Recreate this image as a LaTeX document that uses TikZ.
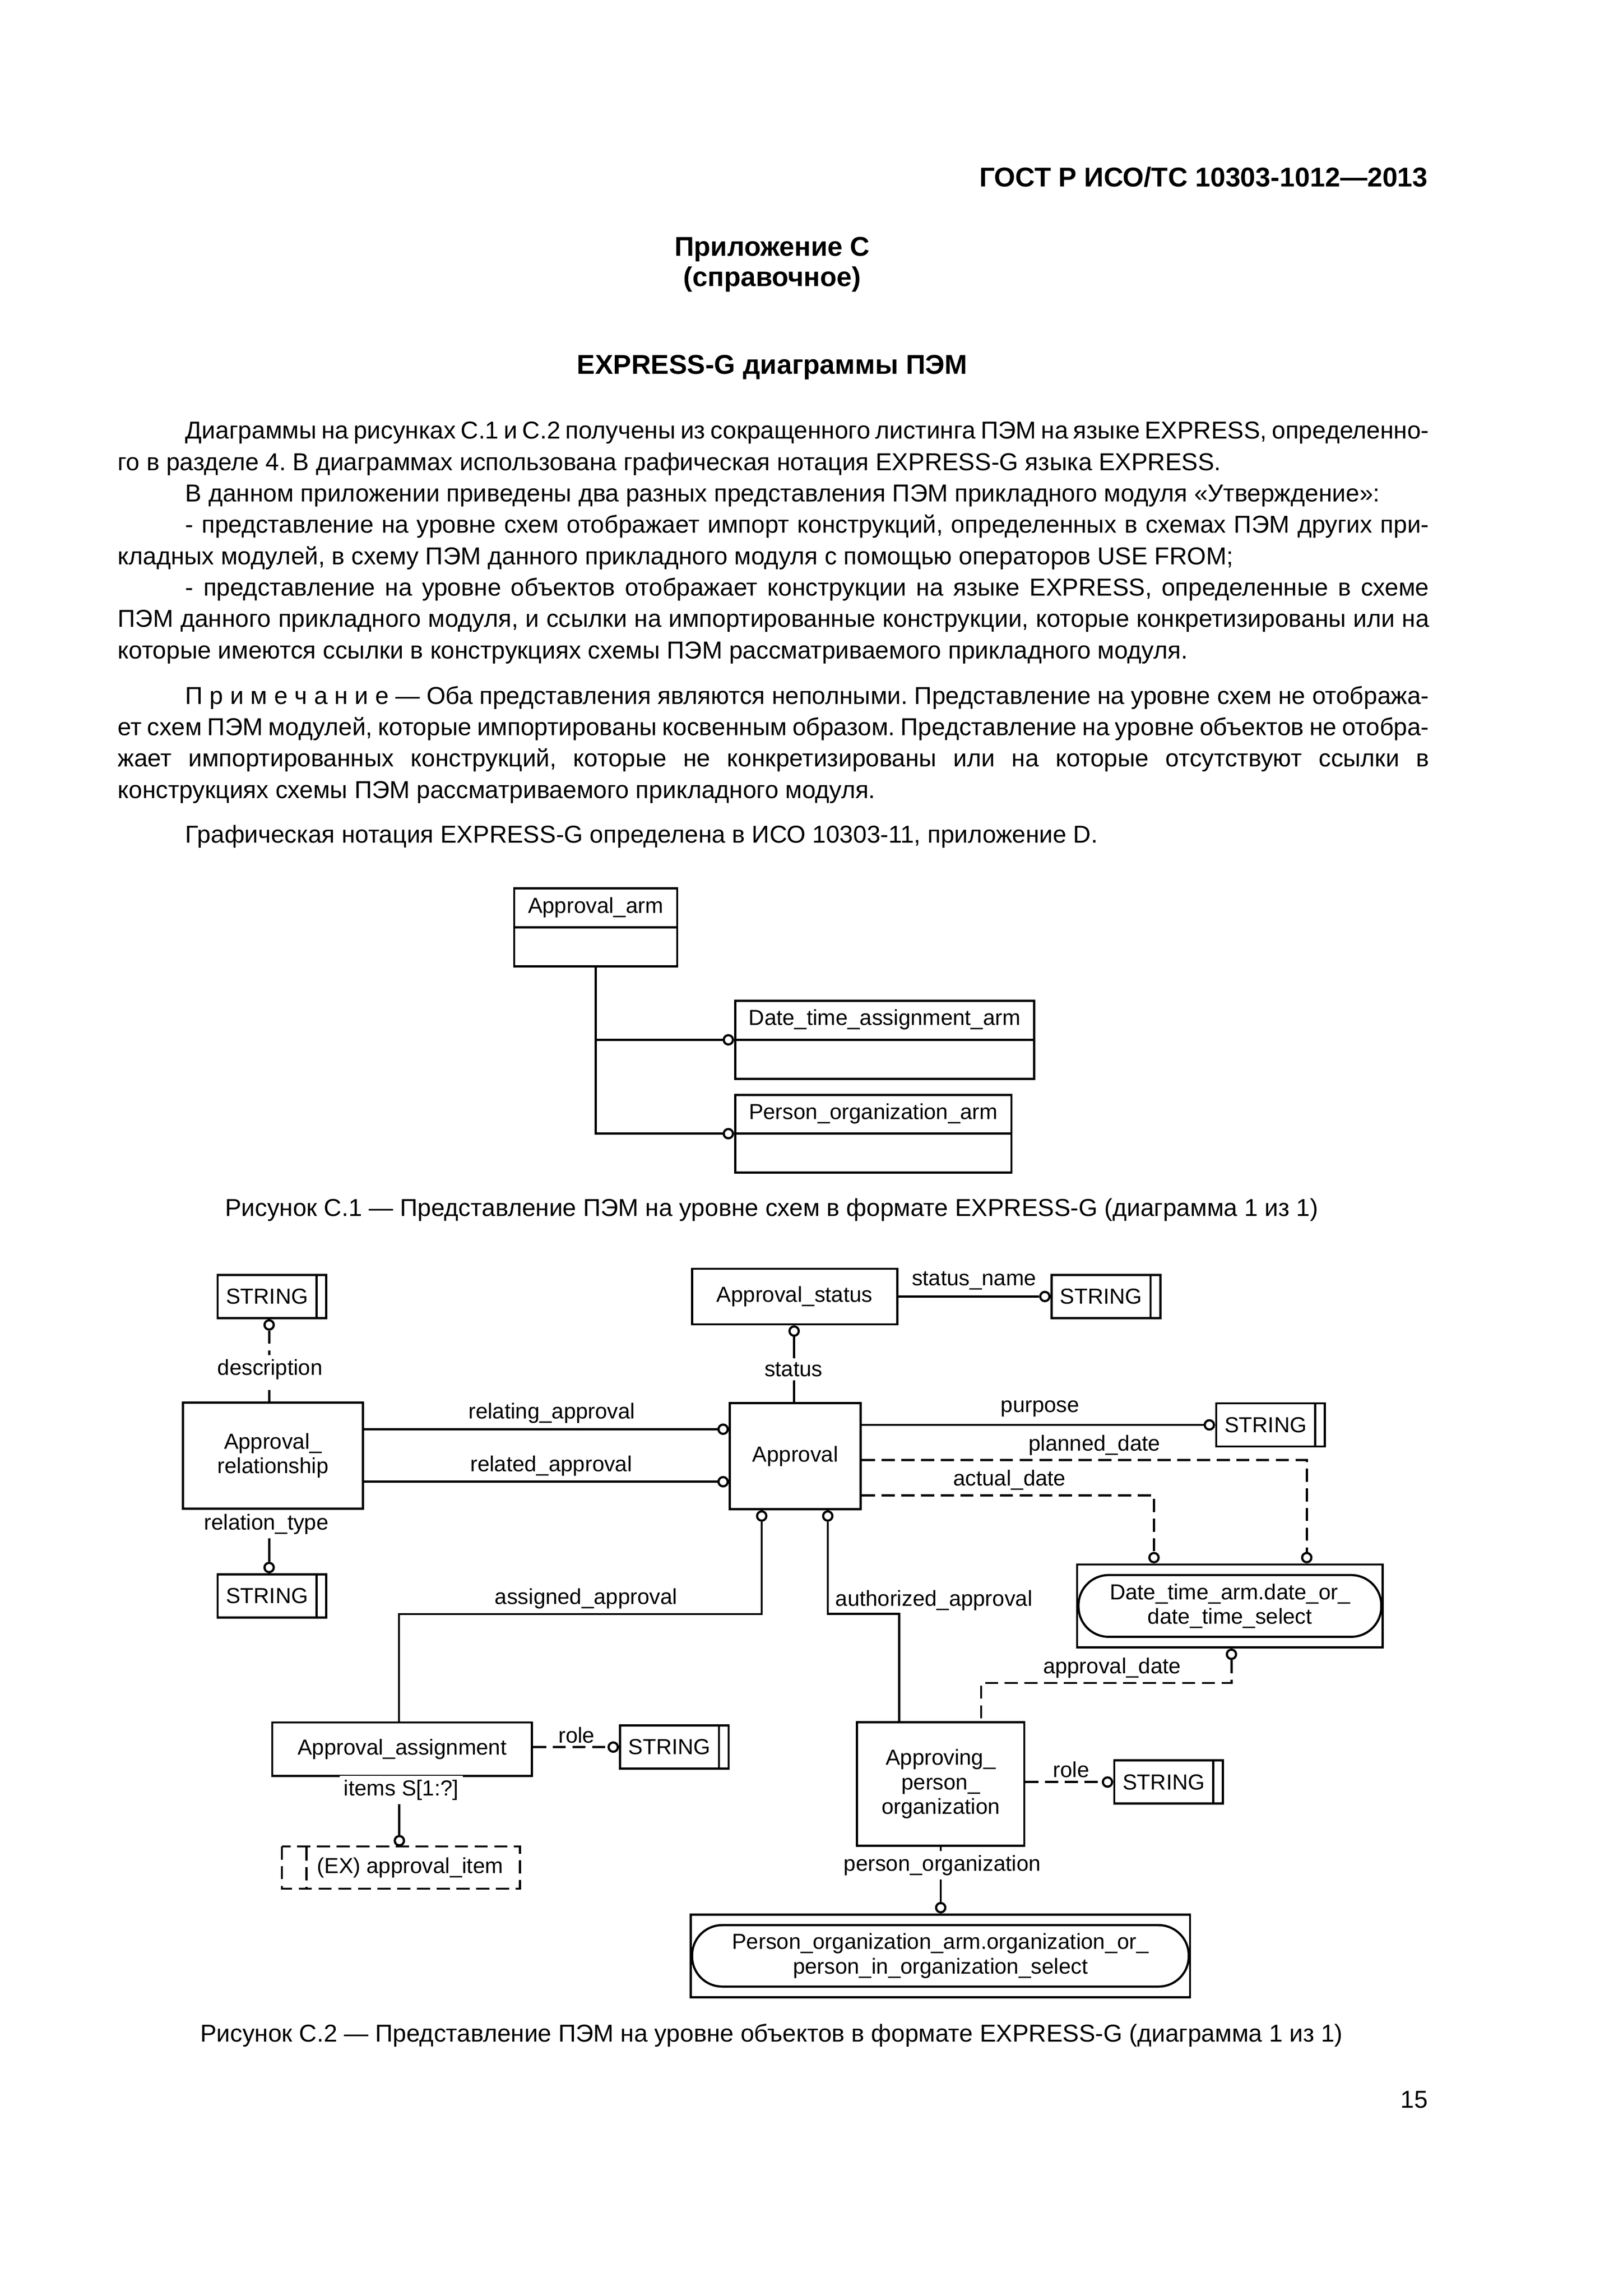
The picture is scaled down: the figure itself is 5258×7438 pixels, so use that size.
\documentclass[tikz,border=0pt]{standalone}
\usepackage{fontspec}
\setmainfont{Liberation Sans}
\usetikzlibrary{calc}
\frenchspacing
\newlength\pu
\setlength\pu{0.039939mm}
\newlength\tw
\setlength\tw{169.66mm}
\newcommand\btext{\fontsize{9}{11.5}\selectfont\frenchspacing}
\newcommand\bhead{\fontsize{10}{11.5}\selectfont\bfseries}
\newcommand\dtext{\fontsize{8}{9}\selectfont}
\newcommand\myind{\hskip8.75mm\relax}
\newcommand\justline[3]{\node[anchor=base west,inner sep=0pt,font=\btext] (#1) at (380,#2) {\hbox to\tw{#3}};}
\newcommand\plainline[3]{\node[anchor=base west,inner sep=0pt,font=\btext] (#1) at (380,#2) {\hbox{#3}};}
\tikzset{
  lw/.style={line width=0.8pt},
  dsh/.style={line width=0.8pt, dash pattern=on 1.7mm off 0.85mm},
  sz/.style 2 args={minimum width=#1\pu, minimum height=#2\pu},
  ent/.style={draw, line width=0.8pt, rectangle, inner sep=0pt, align=center, font=\dtext, fill=white},
  strbox/.style={ent, sz={352}{140}, path picture={\draw[line width=0.8pt] ([xshift=-1.26mm]path picture bounding box.north east) -- ([xshift=-1.26mm]path picture bounding box.south east);}},
  oc/.style={circle, draw, line width=0.8pt, fill=white, inner sep=0pt, minimum size=1.2mm},
  lbl/.style={font=\dtext, inner sep=0pt},
  lblw/.style={font=\dtext, inner sep=1.5pt, fill=white},
  captxt/.style={font=\btext, inner sep=0pt},
  hd/.style={font=\bhead, inner sep=0pt},
}
\begin{document}
\begin{tikzpicture}[x=0.039939mm, y=-0.039939mm]
\fill[white] (0,0) rectangle (5258,7438);
\useasboundingbox (0,0) rectangle (5258,7438);

% ---------- header and text ----------
\node[hd, anchor=base east] (hdr) at (4628,604) {ГОСТ Р ИСО/ТС 10303-1012—2013};
\node[hd, anchor=base] (app) at (2502,829) {Приложение С};
\node[hd, anchor=base] (spr) at (2502,927) {(справочное)};
\node[hd, anchor=base] (ttl) at (2502,1212) {EXPRESS-G диаграммы ПЭМ};

\justline{l1}{1422}{\myind Диаграммы на рисунках С.1 и С.2 получены из сокращенного листинга ПЭМ на языке EXPRESS, определенно-}
\plainline{l2}{1523.6}{го в разделе 4. В диаграммах использована графическая нотация EXPRESS-G языка EXPRESS.}
\plainline{l3}{1625.2}{\myind В данном приложении приведены два разных представления ПЭМ прикладного модуля «Утверждение»:}
\justline{l4}{1726.8}{\myind - представление на уровне схем отображает импорт конструкций, определенных в схемах ПЭМ других при-}
\plainline{l5}{1828.4}{кладных модулей, в схему ПЭМ данного прикладного модуля с помощью операторов USE FROM;}
\justline{l6}{1930}{\myind - представление на уровне объектов отображает конструкции на языке EXPRESS, определенные в схеме}
\justline{l7}{2031.6}{ПЭМ данного прикладного модуля, и ссылки на импортированные конструкции, которые конкретизированы или на}
\plainline{l8}{2133.2}{которые имеются ссылки в конструкциях схемы ПЭМ рассматриваемого прикладного модуля.}
\justline{l9}{2281}{\myind\hbox{П\kern2.5pt р\kern2.5pt и\kern2.5pt м\kern2.5pt е\kern2.5pt ч\kern2.5pt а\kern2.5pt н\kern2.5pt и\kern2.5pt е} — Оба представления являются неполными. Представление на уровне схем не отобража-}
\justline{l10}{2382.6}{ет схем ПЭМ модулей, которые импортированы косвенным образом. Представление на уровне объектов не отобра-}
\justline{l11}{2484.2}{жает импортированных конструкций, которые не конкретизированы или на которые отсутствуют ссылки в}
\plainline{l12}{2585.8}{конструкциях схемы ПЭМ рассматриваемого прикладного модуля.}
\plainline{l13}{2730}{\myind Графическая нотация EXPRESS-G определена в ИСО 10303-11, приложение D.}

% ---------- Figure C.1 ----------
\node[ent, sz={528}{253}] (aarm) at (1930,3004.5) {};
\node[ent, sz={969}{253}] (dtaa) at (2866.5,3368.5) {};
\node[ent, sz={895}{251}] (poa) at (2829.5,3672.5) {};
\draw[lw] (aarm.west) -- (aarm.east);
\draw[lw] (dtaa.west) -- (dtaa.east);
\draw[lw] (poa.west) -- (poa.east);
\node[lbl] (aarmt) at ($(aarm.north)!0.5!(aarm.center)$) {Approval\_arm};
\node[lbl] (dtaat) at ($(dtaa.north)!0.5!(dtaa.center)$) {Date\_time\_assignment\_arm};
\node[lbl] (poat) at ($(poa.north)!0.5!(poa.center)$) {Person\_organization\_arm};
\node[oc, anchor=east] (c1) at (dtaa.west) {};
\node[oc, anchor=east] (c2) at (poa.west) {};
\draw[lw] (aarm.south) -- (aarm.south |- c2) -- (c2);
\draw[lw] (aarm.south |- c1) -- (c1);

\node[captxt, anchor=base] (cap1) at (2500,3940) {Рисунок С.1 — Представление ПЭМ на уровне схем в формате EXPRESS-G (диаграмма 1 из 1)};

% ---------- Figure C.2 ----------
\node[strbox] (str1) at (881,4200) {\hspace*{-1.26mm}STRING};
\node[ent, sz={665}{180}] (astat) at (2574.5,4200) {Approval\_status};
\node[strbox] (str3) at (3583.5,4200) {\hspace*{-1.26mm}STRING};
\node[ent, sz={583}{343}] (arel) at (884.5,4715.5) {Approval\_\\relationship};
\node[ent, sz={424}{344}] (appr) at (2577,4717) {Approval};
\node[strbox] (str4) at (4116.5,4616) {\hspace*{-1.26mm}STRING};
\node[strbox] (str2) at (881,5170) {\hspace*{-1.26mm}STRING};
\node[ent, sz={990}{269}] (dsel) at (3985,5202.5) {Date\_time\_arm.date\_or\_\\date\_time\_select};
\draw[lw, rounded corners=3.9mm] ($(dsel.north west)+(8,38)$) rectangle ($(dsel.south east)+(-8,-38)$);
\node[ent, sz={841.5}{173.5}] (aasg) at (1302.75,5666.75) {Approval\_assignment};
\node[strbox] (str6) at (2185,5659.75) {\hspace*{-1.26mm}STRING};
\node[ent, sz={542}{400}] (apo) at (3048,5779) {Approving\_\\person\_\\organization};
\node[strbox] (str5) at (3786.5,5773) {\hspace*{-1.26mm}STRING};
\node[ent, draw=none, sz={764}{130}] (exai) at (1299,6050) {\hspace*{2.4mm}(EX) approval\_item};
\draw[dsh] (exai.north west) rectangle (exai.south east);
\draw[dsh] ($(exai.north west)+(80,3.5)$) -- ($(exai.south west)+(80,-3.5)$);
\node[ent, sz={1618}{268}] (psel) at (3047,6336) {Person\_organization\_arm.organization\_or\_\\person\_in\_organization\_select};
\draw[lw, rounded corners=3.9mm] ($(psel.north west)+(8,38)$) rectangle ($(psel.south east)+(-8,-38)$);

% circles
\node[oc, anchor=north] (cdesc) at (str1.south -| 872,0) {};
\node[oc, anchor=south] (creltype) at (str2.north -| 872,0) {};
\node[oc, anchor=east] (crelating) at (appr.west |- 0,4630) {};
\node[oc, anchor=east] (crelated) at (appr.west |- 0,4800) {};
\node[oc, anchor=north] (cstat) at (astat.south -| 2573,0) {};
\node[oc, anchor=east] (csn) at (str3.west) {};
\node[oc, anchor=east] (cpurp) at (str4.west) {};
\node[oc, anchor=south] (cpd) at (dsel.north -| 4234,0) {};
\node[oc, anchor=south] (cad) at (dsel.north -| 3739,0) {};
\node[oc, anchor=north] (cas) at (appr.south -| 2468,0) {};
\node[oc, anchor=north] (cau) at (appr.south -| 2682,0) {};
\node[oc, anchor=north] (cadt) at (dsel.south -| 3990,0) {};
\node[oc, anchor=east] (crole1) at (str6.west) {};
\node[oc, anchor=south] (citems) at (exai.north -| 1294,0) {};
\node[oc, anchor=east] (crole2) at (str5.west) {};
\node[oc, anchor=south] (cporg) at (psel.north -| 3048,0) {};

% connectors
\draw[dsh] (cdesc) -- (arel.north -| cdesc);
\draw[lw] (arel.south -| creltype) -- (creltype);
\draw[lw] (arel.east |- crelating) -- (crelating);
\draw[lw] (arel.east |- crelated) -- (crelated);
\draw[lw] (cstat) -- (appr.north -| cstat);
\draw[lw] (astat.east |- csn) -- (csn);
\draw[lw] (appr.east |- cpurp) -- (cpurp);
\draw[dsh] (appr.east |- 0,4730) -| (cpd);
\draw[dsh] (appr.east |- 0,4844) -| (cad);
\draw[lw] (cas) -- (cas |- 0,5229) -| ([xshift=-0.4mm]aasg.north);
\draw[lw] (cau) -- (cau |- 0,5228) -| ($(apo.north)+(-135,0)$);
\draw[dsh] (cadt) -- (cadt |- 0,5452) -| ($(apo.north)+(131,0)$);
\draw[dsh] (aasg.east |- crole1) -- (crole1);
\draw[lw] (aasg.south -| citems) -- (citems);
\draw[dsh] (apo.east |- crole2) -- (crole2);
\draw[lw] (apo.south -| cporg) -- (cporg);

% labels
\node[lblw] (ldesc) at (875,4436) {description};
\node[lblw] (lreltype) at (863,4937) {relation\_type};
\node[lblw] (lstat) at (2571,4436) {status};
\node[lbl] (lsn) at (3156,4148) {status\_name};
\node[lbl] (lrelating) at (1788,4577) {relating\_approval};
\node[lbl] (lrelated) at (1786,4748) {related\_approval};
\node[lbl] (lpurp) at (3370,4564) {purpose};
\node[lbl] (lpd) at (3546,4682) {planned\_date};
\node[lbl] (lad) at (3271,4794) {actual\_date};
\node[lbl] (las) at (1899,5179) {assigned\_approval};
\node[lbl] (lau) at (3026,5184) {authorized\_approval};
\node[lbl] (ladt) at (3603,5403) {approval\_date};
\node[lbl] (lrole1) at (1868,5621) {role};
\node[lblw] (litems) at (1300,5799) {items S[1:?]};
\node[lbl] (lrole2) at (3471,5733) {role};
\node[lblw] (lporg) at (3053,6043) {person\_organization};

\node[captxt, anchor=base] (cap2) at (2500,6614) {Рисунок С.2 — Представление ПЭМ на уровне объектов в формате EXPRESS-G (диаграмма 1 из 1)};
\node[captxt, anchor=base east] (pg) at (4628,6829) {15};
\end{tikzpicture}
\end{document}
